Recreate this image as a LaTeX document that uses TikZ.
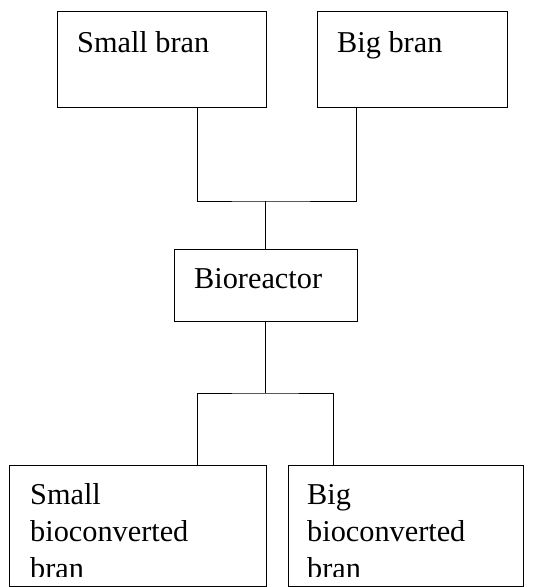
\documentclass[tikz,border=0pt]{standalone}
\usepackage{fontspec}
\setmainfont{Liberation Serif}
\begin{document}
\begin{tikzpicture}[x=1pt,y=-1pt,
  box/.style={draw=black,line width=1pt,rectangle,inner sep=0pt,anchor=north west},
  lbl/.style={inner sep=0pt,anchor=base west,font=\fontsize{30.3}{37}\selectfont},
  wire/.style={draw=black,line width=1pt}]
\useasboundingbox (0,0) rectangle (551,587);
\node[box,minimum width=209pt,minimum height=96pt] (sb) at (57,11) {};
\node[box,minimum width=190pt,minimum height=96pt] (bb) at (317,11) {};
\node[box,minimum width=183pt,minimum height=72pt] (br) at (174,249) {};
\node[box,minimum width=257pt,minimum height=121pt] (sbc) at (9,465) {};
\node[box,minimum width=235pt,minimum height=121pt] (bbc) at (288,465) {};
\node[lbl] (tsb) at (77,52) {Small bran};
\node[lbl] (tbb) at (337,52) {Big bran};
\node[lbl] (tbr) at (194,288) {Bioreactor};
\begin{scope}
\clip (0,0) rectangle (551,576);
\node[lbl] (tsbc1) at (30,504) {Small};
\node[lbl] (tsbc2) at (30,541) {bioconverted};
\node[lbl] (tsbc3) at (30,578) {bran};
\node[lbl] (tbbc1) at (307,504) {Big};
\node[lbl] (tbbc2) at (307,541) {bioconverted};
\node[lbl] (tbbc3) at (307,578) {bran};
\end{scope}
\coordinate (j1) at (265,201);
\coordinate (j2) at (265,393);
\draw[wire] (197,0 |- sb.south) |- (j1) -| (356,0 |- bb.south);
\draw[wire] (j1) -- (br.north -| j1);
\draw[wire] (br.south -| j2) -- (j2);
\draw[wire] (197,0 |- sbc.north) |- (j2) -| (333,0 |- bbc.north);
\end{tikzpicture}
\end{document}
